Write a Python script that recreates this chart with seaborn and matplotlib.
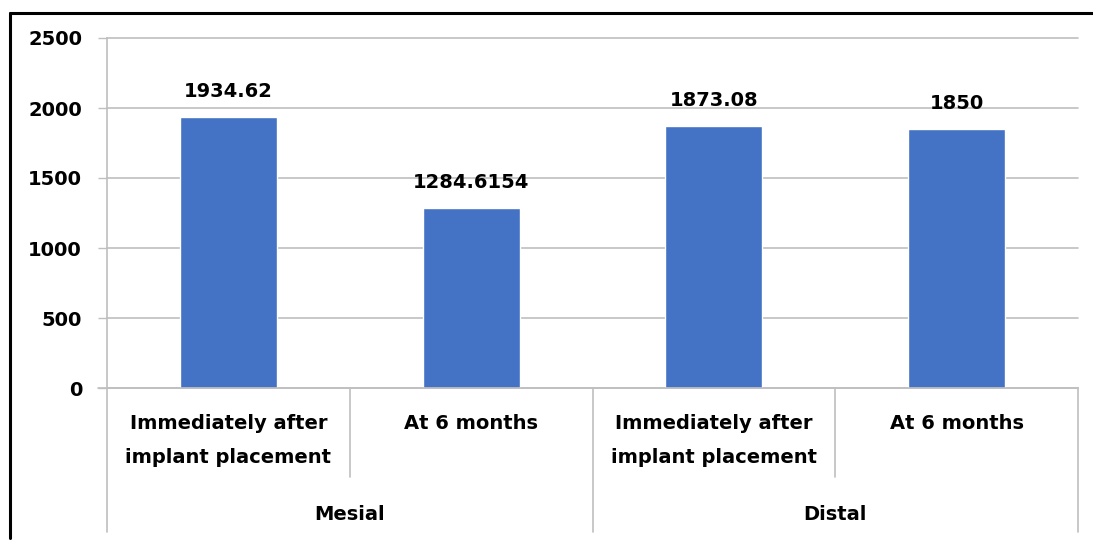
import matplotlib
matplotlib.use("Agg")
import matplotlib.pyplot as plt
from matplotlib.lines import Line2D
import seaborn as sns
import pandas as pd

# ---- data ----
groups = ["Mesial", "Mesial", "Distal", "Distal"]
timepoints = ["Immediately after\nimplant placement", "At 6 months",
              "Immediately after\nimplant placement", "At 6 months"]
values = [1934.62, 1284.6154, 1873.08, 1850]
value_labels = ["1934.62", "1284.6154", "1873.08", "1850"]
group_names = ["Mesial", "Distal"]
yticks = [0, 500, 1000, 1500, 2000, 2500]

sns.set_theme(style="white")
plt.rcParams['font.family'] = ['DejaVu Sans']

keys = [f"{g}|{t}" for g, t in zip(groups, timepoints)]
df = pd.DataFrame({"key": keys, "value": values})

W, H = 1093, 541
fig = plt.figure(figsize=(W / 100, H / 100), dpi=100)
ax = fig.add_axes([107 / W, 1 - 388 / H, (1078 - 107) / W, (388 - 38) / H])

bar_color = "#4472C4"
grey = "#BFBFBF"
sns.barplot(data=df, x="key", y="value", order=keys, color=bar_color,
            width=0.4, saturation=1, ax=ax, errorbar=None)

ax.set_ylim(0, 2500)
ax.set_xlim(-0.5, len(keys) - 0.5)
ax.set_yticks(yticks)
ax.set_yticklabels([str(v) for v in yticks], fontsize=14, fontweight="bold",
                   color="black")
ax.yaxis.grid(True, color=grey, linewidth=1.2)
for gl in ax.get_ygridlines():
    gl.set_clip_on(False)
ax.set_axisbelow(True)
ax.tick_params(axis="y", length=6.5, width=1, color=grey, pad=11.5, left=True)
ax.set_xlabel("")
ax.set_ylabel("")

for s in ["top", "right"]:
    ax.spines[s].set_visible(False)
ax.spines["left"].set_color(grey)
ax.spines["bottom"].set_color(grey)
ax.spines["left"].set_linewidth(1.2)
ax.spines["bottom"].set_linewidth(1.2)

# value labels
for i, (v, lab) in enumerate(zip(values, value_labels)):
    ax.annotate(lab, (i, v), xytext=(0, 14.4), textcoords="offset points",
                ha="center", va="baseline", fontsize=14, fontweight="bold",
                color="black")

# first level category labels
ax.set_xticks(range(len(keys)))
ax.set_xticklabels(timepoints, fontsize=14, fontweight="bold",
                   linespacing=1.95, va="top", color="black")
ax.tick_params(axis="x", length=0, pad=19, bottom=False)

# separators of the multi-level axis
trans = ax.get_xaxis_transform()
axes_h = 388 - 38
long_y = -(532 - 388) / axes_h
short_y = -(477 - 388) / axes_h
for x in [-0.5, 1.5, 3.5]:
    ax.add_line(Line2D([x, x], [0, long_y], transform=trans, color=grey,
                       lw=1.2, clip_on=False))
for x in [0.5, 2.5]:
    ax.add_line(Line2D([x, x], [0, short_y], transform=trans, color=grey,
                       lw=1.2, clip_on=False))
ax.add_line(Line2D([-0.5 - 9 / 243, -0.5], [0, 0], transform=trans,
                   color=grey, lw=1.2, clip_on=False))

# second level labels
y_grp = -(514 - 388) / axes_h
for gi, g in enumerate(group_names):
    ax.text(gi * 2 + 0.5, y_grp, g, transform=trans, ha="center",
            va="center", fontsize=14, fontweight="bold", color="black")

# outer frame (top and left)
fig.add_artist(Line2D([10 / W, 1.0], [1 - 13 / H, 1 - 13 / H],
                      transform=fig.transFigure, color="black", lw=2.2))
fig.add_artist(Line2D([10 / W, 10 / W], [1 - 13 / H, 1 - 538 / H],
                      transform=fig.transFigure, color="black", lw=2.2))

fig.savefig("out.png", dpi=100)
